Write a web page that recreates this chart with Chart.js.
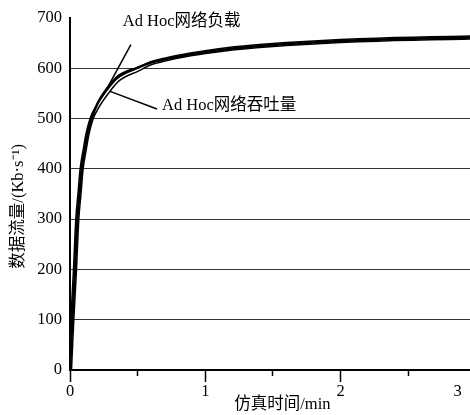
<!DOCTYPE html>
<html>
<head>
<meta charset="utf-8">
<script src="https://cdn.jsdelivr.net/npm/chart.js@4"></script>
<style>
  html, body { margin: 0; padding: 0; background: #fff; overflow: hidden; }
</style>
</head>
<body>
<canvas id="c" width="470" height="415"></canvas>
<script>
// 仿真时间 (min)
const timeMin = [0, 0.005, 0.01, 0.017, 0.027, 0.037, 0.045, 0.054, 0.07, 0.086, 0.11, 0.13, 0.16, 0.2, 0.27, 0.355, 0.5, 0.6, 0.7, 0.8, 1.0, 1.2, 1.4, 1.6, 1.8, 2.0, 2.2, 2.4, 2.6, 2.8, 2.956];
// Ad Hoc网络负载 (Kb/s)
const loadKbps = [0, 30, 60, 100, 150, 200, 250, 300, 350, 400, 440, 470, 500, 528, 558, 584, 601, 611, 617, 623, 632, 639, 644, 648, 651, 654, 656, 658, 659, 660, 661];
// Ad Hoc网络吞吐量 (Kb/s)
const throughputKbps = [0, 30, 60, 100, 150, 200, 250, 300, 350, 400, 440, 470, 500, 522, 550, 577, 597, 610, 617, 623, 632, 639, 644, 648, 651, 654, 656, 658, 659, 660, 661];

// 坐标轴刻度
const xMax = 2.956;
const xMajorTicks = [0, 1, 2];
const xMinorTicks = [0.5, 1.5, 2.5];
const yTicks = [0, 100, 200, 300, 400, 500, 600, 700];

// 标注引线（数据坐标）
const loadLeaderT = [0.45, 0.27];
const loadLeaderV = [647, 558];
const thruLeaderT = [0.296, 0.643];
const thruLeaderV = [554, 519];

const FONT = "'Liberation Serif', 'Noto Sans CJK SC', serif";
const FONT_SIZE = 16.5;

function toPoints(xs, ys) {
    return xs.map((x, i) => ({ x: x, y: ys[i] }));
}

// 曲线文字标注
const curveLabels = {
    id: 'curveLabels',
    afterDatasetsDraw(chart) {
        const { ctx, scales: { x, y } } = chart;
        ctx.save();
        ctx.fillStyle = '#000';
        ctx.font = FONT_SIZE + 'px ' + FONT;
        ctx.textAlign = 'left';
        ctx.textBaseline = 'middle';
        ctx.fillText('Ad Hoc网络负载', x.getPixelForValue(0.39), y.getPixelForValue(693));
        ctx.fillText('Ad Hoc网络吞吐量', x.getPixelForValue(0.68), y.getPixelForValue(526));
        ctx.restore();
    }
};

new Chart(document.getElementById('c'), {
    type: 'line',
    data: {
        datasets: [
            {
                label: 'Ad Hoc网络负载',
                data: toPoints(timeMin, loadKbps),
                borderColor: '#000',
                borderWidth: 2.5,
                order: 0
            },
            {
                label: '吞吐量-内',
                data: toPoints(timeMin, throughputKbps),
                borderColor: '#fff',
                borderWidth: 1.5,
                order: 1
            },
            {
                label: 'Ad Hoc网络吞吐量',
                data: toPoints(timeMin, throughputKbps),
                borderColor: '#000',
                borderWidth: 4.5,
                order: 2
            },
            {
                label: 'leader1',
                data: toPoints(loadLeaderT, loadLeaderV),
                borderColor: '#000',
                borderWidth: 1.5,
                cubicInterpolationMode: 'default',
                tension: 0,
                order: 3
            },
            {
                label: 'leader2',
                data: toPoints(thruLeaderT, thruLeaderV),
                borderColor: '#000',
                borderWidth: 1.5,
                cubicInterpolationMode: 'default',
                tension: 0,
                order: 3
            }
        ]
    },
    options: {
        responsive: false,
        animation: false,
        devicePixelRatio: 1,
        layout: { padding: { top: 17, right: 0, bottom: 0, left: 0 } },
        elements: {
            point: { radius: 0 },
            line: { cubicInterpolationMode: 'monotone', fill: false }
        },
        plugins: {
            legend: { display: false },
            tooltip: { enabled: false }
        },
        scales: {
            x: {
                type: 'linear',
                min: 0,
                max: xMax,
                afterBuildTicks(scale) {
                    scale.ticks = xMajorTicks.concat(xMinorTicks, [xMax])
                        .sort((a, b) => a - b)
                        .map(v => ({ value: v }));
                },
                afterFit(scale) {
                    scale.height = 45;
                    scale.paddingRight = 0;
                    scale.paddingLeft = 0;
                },
                ticks: {
                    autoSkip: false,
                    maxRotation: 0,
                    padding: 0,
                    color: '#000',
                    font: { family: FONT, size: FONT_SIZE },
                    callback(value) {
                        if (value === xMax) return '3      ';
                        return xMajorTicks.includes(value) ? String(value) : '';
                    }
                },
                grid: {
                    drawOnChartArea: false,
                    drawTicks: true,
                    tickLength: 12,
                    tickWidth: 1.5,
                    tickColor: ctx => (ctx.tick && ctx.tick.value === xMax) ? 'rgba(0,0,0,0)' : '#000',
                    tickBorderDash: ctx => (ctx.tick && xMinorTicks.includes(ctx.tick.value)) ? [5, 100] : []
                },
                border: { display: true, color: '#000', width: 2 },
                title: {
                    display: true,
                    text: '      仿真时间/min',
                    color: '#000',
                    font: { family: FONT, size: FONT_SIZE },
                    padding: { top: 0, bottom: 0 }
                }
            },
            y: {
                min: 0,
                max: 700,
                afterBuildTicks(scale) {
                    scale.ticks = yTicks.map(v => ({ value: v }));
                },
                afterFit(scale) {
                    scale.width = 70;
                },
                ticks: {
                    padding: 8,
                    color: '#000',
                    font: { family: FONT, size: FONT_SIZE }
                },
                grid: {
                    drawTicks: false,
                    lineWidth: 1,
                    color: ctx => (ctx.tick && (ctx.tick.value === 700 || ctx.tick.value === 0)) ? 'rgba(0,0,0,0)' : '#333'
                },
                border: { display: true, color: '#000', width: 2 },
                title: {
                    display: true,
                    text: '数据流量/(Kb·s⁻¹)      ',
                    color: '#000',
                    font: { family: FONT, size: FONT_SIZE },
                    padding: { top: 9, bottom: 0 }
                }
            }
        }
    },
    plugins: [curveLabels]
});
</script>
</body>
</html>
